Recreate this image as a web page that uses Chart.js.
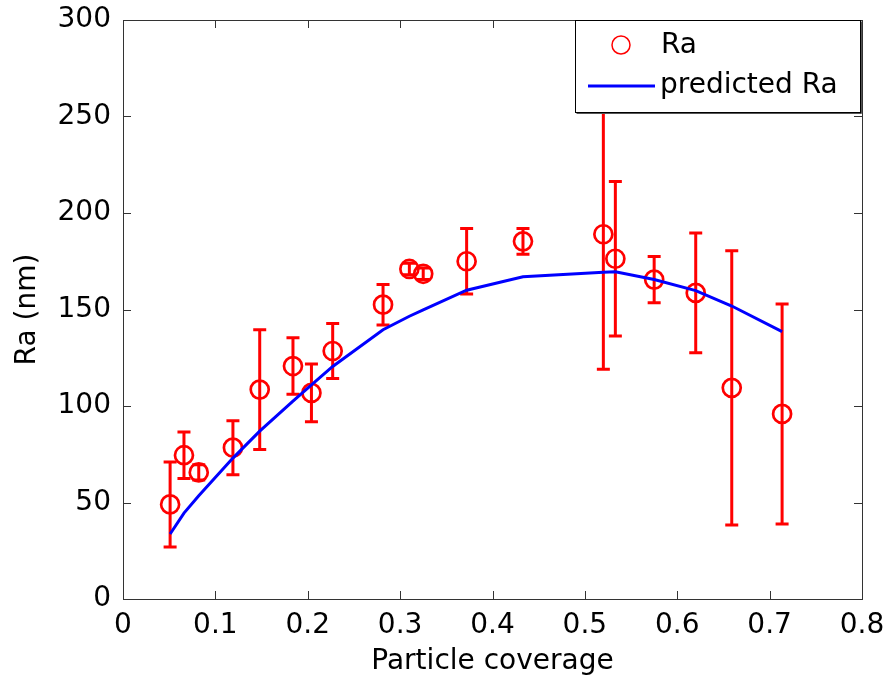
<!DOCTYPE html>
<html>
<head>
    <title>Ra vs particle coverage</title>
    <script src="https://cdn.jsdelivr.net/npm/chart.js"></script>
    <style>
        body { margin: 0; background: #fff; }
        #wrap { width: 886px; height: 682px; }
    </style>
</head>
<body>
    <div id="wrap"><canvas id="myChart"></canvas></div>

    <script>
        // valores
        const coverage    = [0.051, 0.066, 0.082, 0.119, 0.148, 0.184, 0.204, 0.227, 0.2815, 0.310, 0.325, 0.372, 0.433, 0.520, 0.533, 0.575, 0.620, 0.659, 0.7135];
        const raMeasured  = [49, 74.5, 65.6, 78.4, 108.5, 120.7, 106.8, 128.5, 152.5, 171, 168.5, 175, 185.3, 189, 176.3, 165.5, 158.6, 109.4, 95.9];
        const raError     = [22, 12, 4, 14, 31, 14.6, 15, 14.3, 10.5, 3, 3, 17, 6.7, 70, 40, 12, 31, 71, 57];
        const raPredicted = [33.7, 44.5, 53.5, 73, 87, 102.5, 111, 120.5, 139.5, 146.5, 149.8, 160, 167, 169.3, 169.6, 165.5, 159.8, 151.8, 138.5];
        const xTickLabels = ["0", "0.1", "0.2", "0.3", "0.4", "0.5", "0.6", "0.7", "0.8"];
        const yTickLabels = ["0", "50", "100", "150", "200", "250", "300"];

        const FONT = "DejaVu Sans";
        Chart.defaults.font.family = FONT;
        Chart.defaults.color = "#000";

        // barras de error, marco con ticks hacia adentro y leyenda tipo MATLAB
        const matlabLook = {
            id: "matlabLook",
            beforeDatasetsDraw(chart) {
                const ctx = chart.ctx;
                const xs = chart.scales.x, ys = chart.scales.y;
                ctx.save();
                ctx.strokeStyle = "#ff0000";
                ctx.lineWidth = 3;
                for (let i = 0; i < coverage.length; i++) {
                    const px = xs.getPixelForValue(coverage[i]);
                    const top = ys.getPixelForValue(raMeasured[i] + raError[i]);
                    const bot = ys.getPixelForValue(raMeasured[i] - raError[i]);
                    ctx.beginPath();
                    ctx.moveTo(px, top); ctx.lineTo(px, bot);
                    ctx.moveTo(px - 6.5, top); ctx.lineTo(px + 6.5, top);
                    ctx.moveTo(px - 6.5, bot); ctx.lineTo(px + 6.5, bot);
                    ctx.stroke();
                }
                ctx.restore();
            },
            afterDraw(chart) {
                const ctx = chart.ctx;
                const a = chart.chartArea;
                const xs = chart.scales.x, ys = chart.scales.y;
                ctx.save();
                ctx.strokeStyle = "#333";
                ctx.lineWidth = 1;
                ctx.strokeRect(a.left + 0.5, a.top + 0.5, a.right - a.left, a.bottom - a.top);
                ctx.beginPath();
                xs.ticks.forEach(t => {
                    const px = Math.round(xs.getPixelForValue(t.value)) + 0.5;
                    ctx.moveTo(px, a.bottom); ctx.lineTo(px, a.bottom - 8);
                    ctx.moveTo(px, a.top); ctx.lineTo(px, a.top + 8);
                });
                ys.ticks.forEach(t => {
                    const py = Math.round(ys.getPixelForValue(t.value)) + 0.5;
                    ctx.moveTo(a.left, py); ctx.lineTo(a.left + 8, py);
                    ctx.moveTo(a.right, py); ctx.lineTo(a.right - 8, py);
                });
                ctx.stroke();

                // leyenda
                const lx = 575, ly = 20, lw = 285, lh = 92;
                ctx.fillStyle = "#fff";
                ctx.fillRect(lx, ly, lw, lh);
                ctx.strokeStyle = "#555";
                ctx.beginPath();
                ctx.moveTo(lx + 1.5, ly + lh + 1.5); ctx.lineTo(lx + lw + 1.5, ly + lh + 1.5);
                ctx.lineTo(lx + lw + 1.5, ly + 1.5);
                ctx.stroke();
                ctx.strokeStyle = "#000";
                ctx.strokeRect(lx + 0.5, ly + 0.5, lw, lh);

                ctx.strokeStyle = "#ff0000";
                ctx.lineWidth = 1.5;
                ctx.beginPath();
                ctx.arc(621, 45, 9, 0, Math.PI * 2);
                ctx.stroke();
                ctx.strokeStyle = "#0000ff";
                ctx.lineWidth = 3;
                ctx.beginPath();
                ctx.moveTo(588, 86); ctx.lineTo(655, 86);
                ctx.stroke();

                ctx.fillStyle = "#000";
                ctx.font = "28px '" + FONT + "'";
                ctx.textBaseline = "middle";
                ctx.textAlign = "left";
                ctx.fillText(chart.data.datasets[1].label, 661, 46);
                ctx.fillText(chart.data.datasets[0].label, 660, 86);
                ctx.restore();
            }
        };

        const ctx = document.getElementById("myChart").getContext("2d");
        new Chart(ctx, {
            type: "scatter",
            data: {
                datasets: [
                    {
                        label: "predicted Ra",
                        data: coverage.map((x, i) => ({ x: x, y: raPredicted[i] })),
                        showLine: true,
                        borderColor: "#0000ff",
                        borderWidth: 3,
                        pointRadius: 0,
                        tension: 0,
                        order: 0
                    },
                    {
                        label: "Ra",
                        data: coverage.map((x, i) => ({ x: x, y: raMeasured[i] })),
                        showLine: false,
                        pointStyle: "circle",
                        pointRadius: 9,
                        pointBorderWidth: 2.7,
                        borderColor: "#ff0000",
                        backgroundColor: "rgba(0,0,0,0)",
                        order: 1
                    }
                ]
            },
            options: {
                responsive: true,
                maintainAspectRatio: false,
                animation: false,
                layout: { padding: { top: 20, right: 24, left: 0, bottom: 0 } },
                plugins: {
                    legend: { display: false },
                    tooltip: { enabled: false }
                },
                scales: {
                    x: {
                        type: "linear",
                        min: 0,
                        max: 0.8,
                        grid: { display: false, drawTicks: false },
                        border: { display: false },
                        afterFit(scale) {
                            scale.height = 83;
                            scale.paddingLeft = 0;
                            scale.paddingRight = 0;
                        },
                        ticks: {
                            stepSize: 0.1,
                            padding: 10,
                            font: { size: 28 },
                            maxRotation: 0,
                            callback: (v, i) => xTickLabels[i]
                        },
                        title: {
                            display: true,
                            text: "Particle coverage",
                            font: { size: 28 },
                            padding: { top: 0, bottom: 3 }
                        }
                    },
                    y: {
                        min: 0,
                        max: 300,
                        grid: { display: false, drawTicks: false },
                        border: { display: false },
                        afterFit(scale) {
                            scale.width = 123;
                            scale.paddingTop = 0;
                            scale.paddingBottom = 0;
                        },
                        ticks: {
                            stepSize: 50,
                            padding: 12,
                            font: { size: 28 },
                            callback: (v, i) => yTickLabels[i]
                        },
                        title: {
                            display: true,
                            text: "Ra (nm)",
                            font: { size: 28 },
                            padding: { top: 11, bottom: 0 }
                        }
                    }
                }
            },
            plugins: [matlabLook]
        });
    </script>
</body>
</html>
